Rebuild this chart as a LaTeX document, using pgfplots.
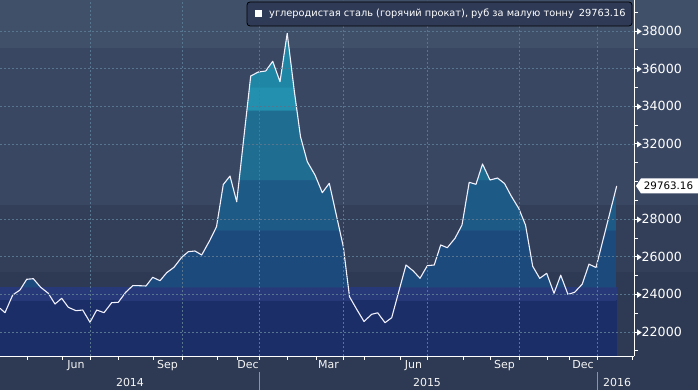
\documentclass[border=0pt]{standalone}
\usepackage{pgfplots}
\pgfplotsset{compat=1.18}
\usepackage{pgfplotstable}
\usepackage{fontspec}
\setmainfont{DejaVu Sans}
\definecolor{bgA}{HTML}{415069}
\definecolor{bgB}{HTML}{3A4763}
\definecolor{bgC}{HTML}{333F59}
\definecolor{bgD}{HTML}{2E3A53}
\definecolor{fNavy}{HTML}{1C2E68}
\definecolor{fPurp}{HTML}{28397A}
\definecolor{fBa}{HTML}{1D4A7D}
\definecolor{fBb}{HTML}{1D5A86}
\definecolor{fBc}{HTML}{1F6E91}
\definecolor{fTa}{HTML}{2290AE}
\definecolor{fTb}{HTML}{1F87A5}
\definecolor{gridc}{HTML}{587590}
\definecolor{legbg}{HTML}{2F3B56}
\definecolor{sepc}{HTML}{8B93A6}
% banded vertical shading: the area's bounding box (20724 .. 37876) maps onto 25bp .. 75bp
\pgfdeclareverticalshading{bands}{100bp}{%
color(0bp)=(fNavy); color(33.67bp)=(fNavy);
color(33.68bp)=(fPurp); color(35.71bp)=(fPurp);
color(35.72bp)=(fBa); color(44.52bp)=(fBa);
color(44.53bp)=(fBb); color(52.27bp)=(fBb);
color(52.28bp)=(fBc); color(63.12bp)=(fBc);
color(63.13bp)=(fTa); color(66.67bp)=(fTa);
color(66.68bp)=(fTb); color(100bp)=(fTb)}

\pgfplotstableread{
x y
0 23260
5 23026
12.7 23967
20 24232
26.7 24801
33.3 24833
40.7 24376
48.3 24057
55 23488
61.7 23791
68.3 23313
76 23132
82.7 23169
90 22516
96.7 23169
104 23026
111.7 23557
118.3 23579
125.7 24110
132.7 24461
139.3 24461
146 24445
152.7 24907
160 24727
166.7 25152
174 25439
181.7 25970
188.3 26268
195 26305
201.7 26093
210 26890
216.5 27597
223.3 29840
230 30291
236.7 28925
250.7 35607
258.3 35819
265.7 35872
272.7 36388
280 35304
287.2 37876
294.3 34809
300.5 32380
307.3 31052
315 30345
322.3 29404
329.3 29904
336.7 28128
343.3 26534
349.5 23876
356.7 23207
364 22558
371.7 22941
377.7 23020
385 22494
391.7 22760
398.3 24057
406 25561
413.3 25242
420 24854
427.3 25524
434.2 25561
440.7 26624
447.3 26481
455 26980
462 27687
469.2 29957
476 29850
482.5 30929
490 30079
497.5 30185
504.5 29893
511.2 29228
518.7 28575
525.5 27687
532.7 25492
539.7 24854
546.7 25120
554 24057
560.7 25019
568 23993
574.7 24115
582.2 24541
589 25604
596 25428
616.7 29763.16
}\steel

% same series closed down to the bottom of the axis, for the area fill
\pgfplotstableread{
x y
0 23260
5 23026
12.7 23967
20 24232
26.7 24801
33.3 24833
40.7 24376
48.3 24057
55 23488
61.7 23791
68.3 23313
76 23132
82.7 23169
90 22516
96.7 23169
104 23026
111.7 23557
118.3 23579
125.7 24110
132.7 24461
139.3 24461
146 24445
152.7 24907
160 24727
166.7 25152
174 25439
181.7 25970
188.3 26268
195 26305
201.7 26093
210 26890
216.5 27597
223.3 29840
230 30291
236.7 28925
250.7 35607
258.3 35819
265.7 35872
272.7 36388
280 35304
287.2 37876
294.3 34809
300.5 32380
307.3 31052
315 30345
322.3 29404
329.3 29904
336.7 28128
343.3 26534
349.5 23876
356.7 23207
364 22558
371.7 22941
377.7 23020
385 22494
391.7 22760
398.3 24057
406 25561
413.3 25242
420 24854
427.3 25524
434.2 25561
440.7 26624
447.3 26481
455 26980
462 27687
469.2 29957
476 29850
482.5 30929
490 30079
497.5 30185
504.5 29893
511.2 29228
518.7 28575
525.5 27687
532.7 25492
539.7 24854
546.7 25120
554 24057
560.7 25019
568 23993
574.7 24115
582.2 24541
589 25604
596 25428
616.7 29763.16
616.7 20724
0 20724
}\steelarea

\begin{document}
\begin{tikzpicture}[x=1pt,y=1pt]
\fill[bgD] (0,-34) rectangle (698,84);
\fill[bgC] (0,84) rectangle (698,151);
\fill[bgB] (0,151) rectangle (698,308);
\fill[bgA] (0,308) rectangle (698,356);
\begin{axis}[
  at={(0,0)}, anchor=south west, scale only axis,
  width=634pt, height=356pt,
  xmin=0, xmax=634, ymin=20724, ymax=39647,
  axis on top, clip=false,
  scaled y ticks=false, scaled x ticks=false,
  axis x line*=bottom, axis y line*=right,
  axis line style={white, line width=0.8pt, -},
  tick style={white, line width=0.8pt},
  tick align=outside,
  major tick length=4pt, minor tick length=4pt,
  xtick={90,182,259,343,427,519,597},
  minor xtick={27,62,118,153,217,237,287,316,364,400,463,490,547,569,632},
  xticklabels={},
  xmajorgrids, ymajorgrids,
  major grid style={gridc, dash pattern=on 2pt off 2pt, line width=0.6pt},
  extra x ticks={76,167.5,248,328.5,413.5,504.5,583},
  extra x tick labels={Jun,Sep,Dec,Mar,Jun,Sep,Dec},
  extra x tick style={grid=none, major tick length=0pt,
    xticklabel style={anchor=north, yshift=-1pt, text=white!92!gray, font=\fontsize{11}{13}\selectfont}},
  ytick={22000,24000,26000,28000,32000,34000,36000,38000},
  minor ytick={21000,23000,25000,27000,29000,30000,31000,33000,35000,37000,39000},
  yticklabel={\tikz[baseline=-0.6ex]\fill[white] (0,-3pt)--(4.5pt,0)--(0,3pt)--cycle;\pgfmathprintnumber[fixed,precision=0,1000 sep={},assume math mode=true]{\tick}},
  yticklabel style={anchor=west, inner sep=0pt, xshift=-1pt, text=white, font=\fontsize{12.6}{15}\selectfont},
]
\addplot[fill=fNavy, draw=none] coordinates {(0,20724) (616.7,20724) (616.7,23700) (0,23700)};
\addplot[fill=fPurp, draw=none] coordinates {(0,23700) (616.7,23700) (616.7,24400) (0,24400)};
\addplot[shading=bands, draw=none] table[x=x,y=y] {\steelarea};
\addplot[white!95!blue, line width=1.1pt, line join=round] table[x=x,y=y] {\steel};
\coordinate (v) at (axis cs:634,29763.16);
\end{axis}
% value marker
\fill[white] ([xshift=2pt]v) -- ([xshift=7pt,yshift=7.5pt]v) -- ([xshift=64pt,yshift=7.5pt]v) -- ([xshift=64pt,yshift=-7.5pt]v) -- ([xshift=7pt,yshift=-7.5pt]v) -- cycle;
\node[text=black, inner sep=0pt, font=\fontsize{10.3}{12}\selectfont] at ([xshift=34.5pt]v) {29763.16};
% legend
\draw[black, fill=legbg, rounded corners=3pt, line width=0.8pt] (247,354) rectangle (632,330);
\fill[white] (255,346) rectangle (262,339);
\node[anchor=west, text=white, inner sep=0pt, font=\fontsize{9.8}{11}\selectfont] at (269,342) {углеродистая сталь (горячий прокат), руб за малую тонну\hspace{0.5em}29763.16};
% years
\node[text=white!92!gray, font=\fontsize{11}{13}\selectfont] at (130,-26) {2014};
\node[text=white!92!gray, font=\fontsize{11}{13}\selectfont] at (427,-26) {2015};
\node[text=white!92!gray, font=\fontsize{11}{13}\selectfont] at (617,-26) {2016};
\draw[sepc, line width=0.8pt] (259,-16) -- (259,-34);
\draw[sepc, line width=0.8pt] (597,-16) -- (597,-34);
\pgfresetboundingbox
\useasboundingbox (0,-34) rectangle (698,356);
\end{tikzpicture}
\end{document}
